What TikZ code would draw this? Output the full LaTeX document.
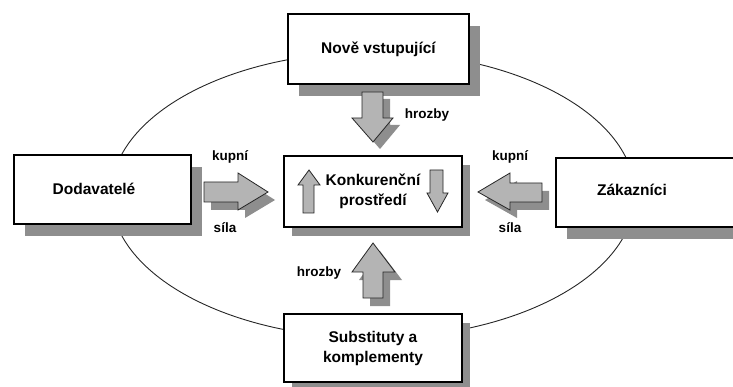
\documentclass[tikz,border=0pt]{standalone}
\usepackage{fontspec}
\setmainfont{Liberation Sans}
\usetikzlibrary{shapes,shadows}
\definecolor{shadowgray}{HTML}{8E8E8E}
\definecolor{arrowgray}{HTML}{B4B4B4}
\tikzstyle{panel}=[draw=black,fill=white,line width=2pt,align=center,inner sep=2pt,font=\fontsize{15.5}{20}\selectfont\bfseries]
\tikzstyle{panellabel}=[font=\fontsize{15.5}{20}\selectfont\bfseries]
\tikzstyle{bigshadow}=[drop shadow={shadow xshift=11pt,shadow yshift=-12pt,fill=shadowgray,opacity=1}]
\tikzstyle{smallshadow}=[drop shadow={shadow xshift=8pt,shadow yshift=-9pt,fill=shadowgray,opacity=1}]

\begin{document}
\begin{tikzpicture}[x=1pt,y=-1pt]
    \tikzstyle{fatarrow}=[draw=black!85,fill=arrowgray,line width=0.8pt,line join=miter]
    \tikzstyle{fatshadow}=[fill=shadowgray]
    \tikzstyle{small}=[font=\fontsize{13.5}{16}\selectfont\bfseries]
    \useasboundingbox (0,0) rectangle (733,387);
    % the ring behind the boxes
    \draw[line width=0.9pt,black!85] (373,195) ellipse [x radius=262pt, y radius=143pt];
    \node[panel,bigshadow,minimum width=181pt,minimum height=70pt] (nove) at (378.5,49) {Nově vstupující};
    \node[panel,bigshadow,minimum width=177pt,minimum height=69pt] (dodav) at (102.5,189.5) {};
    \node[panellabel] (dodavtext) at (94,189) {Dodavatelé};
    \node[panel,smallshadow,minimum width=178pt,minimum height=71pt] (konk) at (373,191.5) {Konkurenční\\prostředí};
    \node[panel,bigshadow,minimum width=188pt,minimum height=69pt] (zak) at (650,192.5) {};
    \node[panellabel] (zaktext) at (632,190) {Zákazníci};
    \node[panel,smallshadow,minimum width=178pt,minimum height=68pt] (subst) at (373,348) {Substituty a\\komplementy};
    % fat arrows
    \fill[fatshadow,shift={(7,8)}] (204,182) -- (238,182) -- (238,173) -- (268,192) -- (238,210) -- (238,202) -- (204,202) -- cycle;
    \filldraw[fatarrow] (204,182) -- (238,182) -- (238,173) -- (268,192) -- (238,210) -- (238,202) -- (204,202) -- cycle;
    \fill[fatshadow,shift={(7,8)}] (542,183) -- (510,183) -- (510,173) -- (478,192) -- (510,210) -- (510,202) -- (542,202) -- cycle;
    \filldraw[fatarrow] (542,183) -- (510,183) -- (510,173) -- (478,192) -- (510,210) -- (510,202) -- (542,202) -- cycle;
    \fill[fatshadow,shift={(7,7)}] (362,92) -- (383,92) -- (383,118) -- (393,118) -- (373,142) -- (352,118) -- (362,118) -- cycle;
    \filldraw[fatarrow] (362,92) -- (383,92) -- (383,118) -- (393,118) -- (373,142) -- (352,118) -- (362,118) -- cycle;
    \fill[fatshadow,shift={(7,8)}] (363,298) -- (383,298) -- (383,272) -- (395,272) -- (373,243) -- (352,272) -- (363,272) -- cycle;
    \filldraw[fatarrow] (363,298) -- (383,298) -- (383,272) -- (395,272) -- (373,243) -- (352,272) -- (363,272) -- cycle;
    % the two small ones inside
    \filldraw[fatarrow] (303,213) -- (314,213) -- (314,185) -- (320,185) -- (309,170) -- (298,185) -- (303,185) -- cycle;
    \filldraw[fatarrow] (430,170) -- (443,170) -- (443,193) -- (448,193) -- (437.5,212) -- (427,193) -- (430,193) -- cycle;
    \node[small] (kupnil) at (230,157) {kupní};
    \node[small] (silal) at (225,228) {síla};
    \node[small] (kupnir) at (510,157) {kupní};
    \node[small] (silar) at (510,228) {síla};
    \node[small] (hrozbyt) at (427,115) {hrozby};
    \node[small] (hrozbyb) at (319,273) {hrozby};
\end{tikzpicture}
\end{document}
